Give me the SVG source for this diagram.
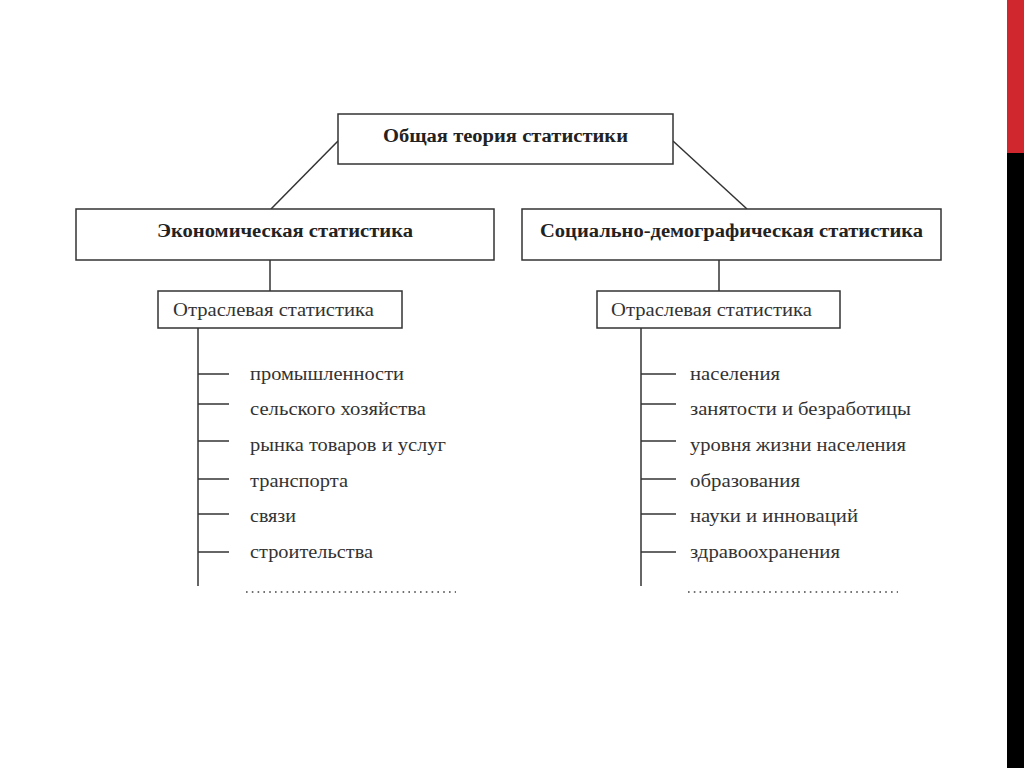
<svg xmlns="http://www.w3.org/2000/svg" width="1024" height="768" viewBox="0 0 1024 768">
<style>
.box{fill:#fff;stroke:#333;stroke-width:1.5}
.ln{stroke:#333;stroke-width:1.5;fill:none}
.b{font-family:"Liberation Serif",serif;font-weight:bold;font-size:18px;fill:#222}
.t{font-family:"Liberation Serif",serif;font-size:18px;fill:#333}
.d{stroke:#444;stroke-width:1.6;stroke-dasharray:1.6 4.2;fill:none}
</style>
<rect width="1024" height="768" fill="#fff"/>
<rect x="1007" y="0" width="17" height="153" fill="#d0262d"/>
<rect x="1007" y="153" width="17" height="615" fill="#000"/>
<g id="connectors">
<line class="ln" x1="338" y1="141" x2="271" y2="209"/>
<line class="ln" x1="673" y1="141" x2="747" y2="209"/>
<line class="ln" x1="270" y1="260" x2="270" y2="291"/>
<line class="ln" x1="719" y1="260" x2="719" y2="291"/>
<line class="ln" x1="198" y1="328" x2="198" y2="586"/>
<line class="ln" x1="198" y1="374" x2="229" y2="374"/>
<line class="ln" x1="198" y1="404" x2="229" y2="404"/>
<line class="ln" x1="198" y1="441" x2="229" y2="441"/>
<line class="ln" x1="198" y1="479" x2="229" y2="479"/>
<line class="ln" x1="198" y1="514" x2="229" y2="514"/>
<line class="ln" x1="198" y1="552" x2="229" y2="552"/>
<line class="ln" x1="641" y1="328" x2="641" y2="586"/>
<line class="ln" x1="641" y1="374" x2="676" y2="374"/>
<line class="ln" x1="641" y1="404" x2="676" y2="404"/>
<line class="ln" x1="641" y1="441" x2="676" y2="441"/>
<line class="ln" x1="641" y1="479" x2="676" y2="479"/>
<line class="ln" x1="641" y1="514" x2="676" y2="514"/>
<line class="ln" x1="641" y1="552" x2="676" y2="552"/>
</g>
<g id="root">
<rect class="box" x="338" y="114" width="335" height="50"/>
<text class="b" x="383" y="142" textLength="245" lengthAdjust="spacingAndGlyphs">Общая теория статистики</text>
</g>
<g id="econ">
<rect class="box" x="76" y="209" width="418" height="51"/>
<text class="b" x="157" y="237" textLength="256" lengthAdjust="spacingAndGlyphs">Экономическая статистика</text>
</g>
<g id="soc">
<rect class="box" x="522" y="209" width="419" height="51"/>
<text class="b" x="540" y="237" textLength="383" lengthAdjust="spacingAndGlyphs">Социально-демографическая статистика</text>
</g>
<g id="econ-branch">
<rect class="box" x="158" y="291" width="244" height="37"/>
<text class="t" x="173" y="316" textLength="201" lengthAdjust="spacingAndGlyphs">Отраслевая статистика</text>
</g>
<g id="soc-branch">
<rect class="box" x="597" y="291" width="243" height="37"/>
<text class="t" x="611" y="316" textLength="201" lengthAdjust="spacingAndGlyphs">Отраслевая статистика</text>
</g>
<g id="econ-items">
<text class="t" x="250" y="380" textLength="154" lengthAdjust="spacingAndGlyphs">промышленности</text>
<text class="t" x="250" y="415" textLength="176" lengthAdjust="spacingAndGlyphs">сельского хозяйства</text>
<text class="t" x="250" y="451" textLength="196" lengthAdjust="spacingAndGlyphs">рынка товаров и услуг</text>
<text class="t" x="250" y="487" textLength="98" lengthAdjust="spacingAndGlyphs">транспорта</text>
<text class="t" x="250" y="522" textLength="46" lengthAdjust="spacingAndGlyphs">связи</text>
<text class="t" x="250" y="558" textLength="123" lengthAdjust="spacingAndGlyphs">строительства</text>
<line class="d" x1="246" y1="592" x2="456" y2="592"/>
</g>
<g id="soc-items">
<text class="t" x="690" y="380" textLength="90" lengthAdjust="spacingAndGlyphs">населения</text>
<text class="t" x="690" y="415" textLength="221" lengthAdjust="spacingAndGlyphs">занятости и безработицы</text>
<text class="t" x="690" y="451" textLength="216" lengthAdjust="spacingAndGlyphs">уровня жизни населения</text>
<text class="t" x="690" y="487" textLength="110" lengthAdjust="spacingAndGlyphs">образования</text>
<text class="t" x="690" y="522" textLength="168" lengthAdjust="spacingAndGlyphs">науки и инноваций</text>
<text class="t" x="690" y="558" textLength="150" lengthAdjust="spacingAndGlyphs">здравоохранения</text>
<line class="d" x1="688" y1="592" x2="898" y2="592"/>
</g>
</svg>
